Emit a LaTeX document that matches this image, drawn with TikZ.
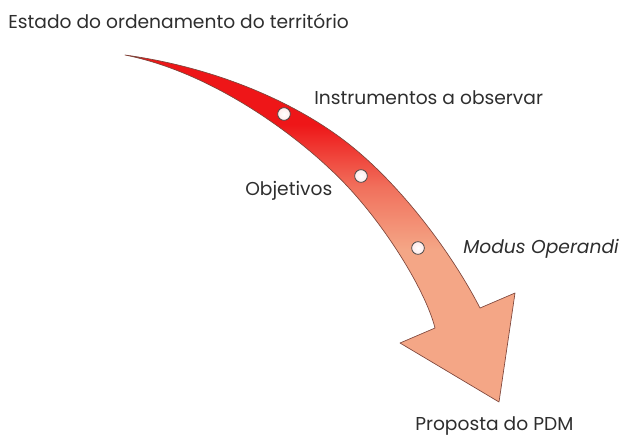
\documentclass[tikz,border=0pt]{standalone}
\usepackage{fontspec}
\setmainfont{Poppins}
\usepackage{tikz}
\usetikzlibrary{positioning}

\definecolor{vermelho}{RGB}{238,22,24}
\definecolor{coral}{RGB}{241,112,92}
\definecolor{salmao}{RGB}{244,166,134}
\definecolor{contorno}{RGB}{125,70,60}
\pgfdeclareverticalshading{seta}{100bp}{color(0bp)=(salmao); color(47bp)=(salmao); color(56bp)=(coral); color(65bp)=(vermelho); color(100bp)=(vermelho)}

\begin{document}
\begin{tikzpicture}[
	x=0.75pt, y=-0.75pt,
	passo/.style={circle, draw=gray!55!black, line width=0.6pt, inner sep=0pt,
		minimum size=9.5pt, inner color=white, outer color=red!8},
	rotulo/.style={anchor=west, inner sep=0pt, font=\fontsize{14}{16}\selectfont, text=black!82}
	]
	\useasboundingbox (0,0) rectangle (630,439);
	% seta curva
	\shade[shading=seta, draw=contorno, line width=0.5pt, line join=round]
		(125,55) .. controls (220,68) and (300,105) .. (350,145)
		.. controls (400,185) and (450,250) .. (480,308)
		-- (515,293) -- (499,402) -- (400,343) -- (435,328)
		.. controls (425,288) and (378,213) .. (330,169)
		.. controls (290,131) and (210,72) .. cycle;
	% etapas
	\node (p1) [passo] at (284,114) {};
	\node (p2) [passo] at (361,176) {};
	\node (p3) [passo] at (418,248) {};
	\node (inicio) [rotulo] at (8,21) {Estado do ordenamento do território};
	\node (instr) [rotulo] at (314,98) {Instrumentos a observar};
	\node (obj) [rotulo] at (245,191) {Objetivos};
	\node (modus) [rotulo] at (463,249) {\itshape Modus Operandi};
	\node (fim) [rotulo] at (415,426) {Proposta do PDM};
\end{tikzpicture}
\end{document}
